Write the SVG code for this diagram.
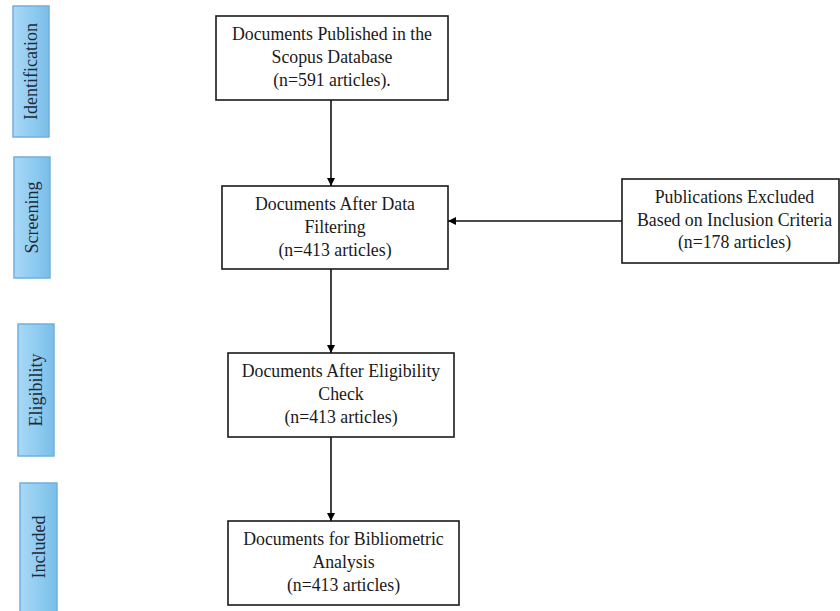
<svg xmlns="http://www.w3.org/2000/svg" width="840" height="611" viewBox="0 0 840 611">
<defs>
<linearGradient id="blue" x1="0" y1="0" x2="1" y2="0">
<stop offset="0" stop-color="#a9d8f5"/>
<stop offset="0.6" stop-color="#8ccaf0"/>
<stop offset="1" stop-color="#7abde8"/>
</linearGradient>
<marker id="arr" viewBox="0 0 10 10" refX="10" refY="5" markerWidth="8" markerHeight="8" markerUnits="userSpaceOnUse" orient="auto">
<path d="M0,0 L10,5 L0,10 z" fill="#000"/>
</marker>
<style>
.stage rect{fill:url(#blue);stroke:#6fb0df;stroke-width:1.5}
.stage text{font-family:"Liberation Serif","Times New Roman",serif;font-size:18px;fill:#1e2a36;text-anchor:middle;dominant-baseline:central}
.box rect{fill:#fff;stroke:#1a1a1a;stroke-width:1.6}
.box text{font-family:"Liberation Serif","Times New Roman",serif;font-size:17.8px;fill:#1a1a1a;text-anchor:middle}
.conn line{stroke:#111;stroke-width:1.6;marker-end:url(#arr)}
</style>
</defs>
<g id="stage-identification" class="stage">
<rect x="13" y="6" width="36" height="131"/>
<text transform="translate(31,71.5) rotate(-90)">Identification</text>
</g>
<g id="stage-screening" class="stage">
<rect x="14" y="157" width="36" height="121"/>
<text transform="translate(32,217.5) rotate(-90)">Screening</text>
</g>
<g id="stage-eligibility" class="stage">
<rect x="18" y="324" width="36" height="132"/>
<text transform="translate(36,390) rotate(-90)">Eligibility</text>
</g>
<g id="stage-included" class="stage">
<rect x="20" y="483" width="37" height="140"/>
<text transform="translate(38.5,547) rotate(-90)">Included</text>
</g>
<g id="n1" class="box">
<rect x="216" y="16" width="232" height="84"/>
<text x="332" y="40">Documents Published in the</text>
<text x="332" y="63">Scopus Database</text>
<text x="332" y="86">(n=591 articles).</text>
</g>
<g id="n2" class="box">
<rect x="222" y="186" width="226" height="83"/>
<text x="335" y="210">Documents After Data</text>
<text x="335" y="233">Filtering</text>
<text x="335" y="256">(n=413 articles)</text>
</g>
<g id="n3" class="box">
<rect x="228" y="353" width="226" height="84"/>
<text x="341" y="377">Documents After Eligibility</text>
<text x="341" y="400">Check</text>
<text x="341" y="423">(n=413 articles)</text>
</g>
<g id="n4" class="box">
<rect x="228" y="521" width="231" height="84"/>
<text x="343.5" y="545">Documents for Bibliometric</text>
<text x="343.5" y="568">Analysis</text>
<text x="343.5" y="591">(n=413 articles)</text>
</g>
<g id="n5" class="box">
<rect x="622" y="179" width="217" height="84"/>
<text x="734.5" y="203">Publications Excluded</text>
<text x="734.5" y="226">Based on Inclusion Criteria</text>
<text x="734.5" y="248">(n=178 articles)</text>
</g>
<g id="connectors" class="conn">
<line x1="331" y1="100" x2="331" y2="186"/>
<line x1="331" y1="269" x2="331" y2="353"/>
<line x1="331" y1="437" x2="331" y2="521"/>
<line x1="622" y1="221" x2="448" y2="221"/>
</g>
</svg>
